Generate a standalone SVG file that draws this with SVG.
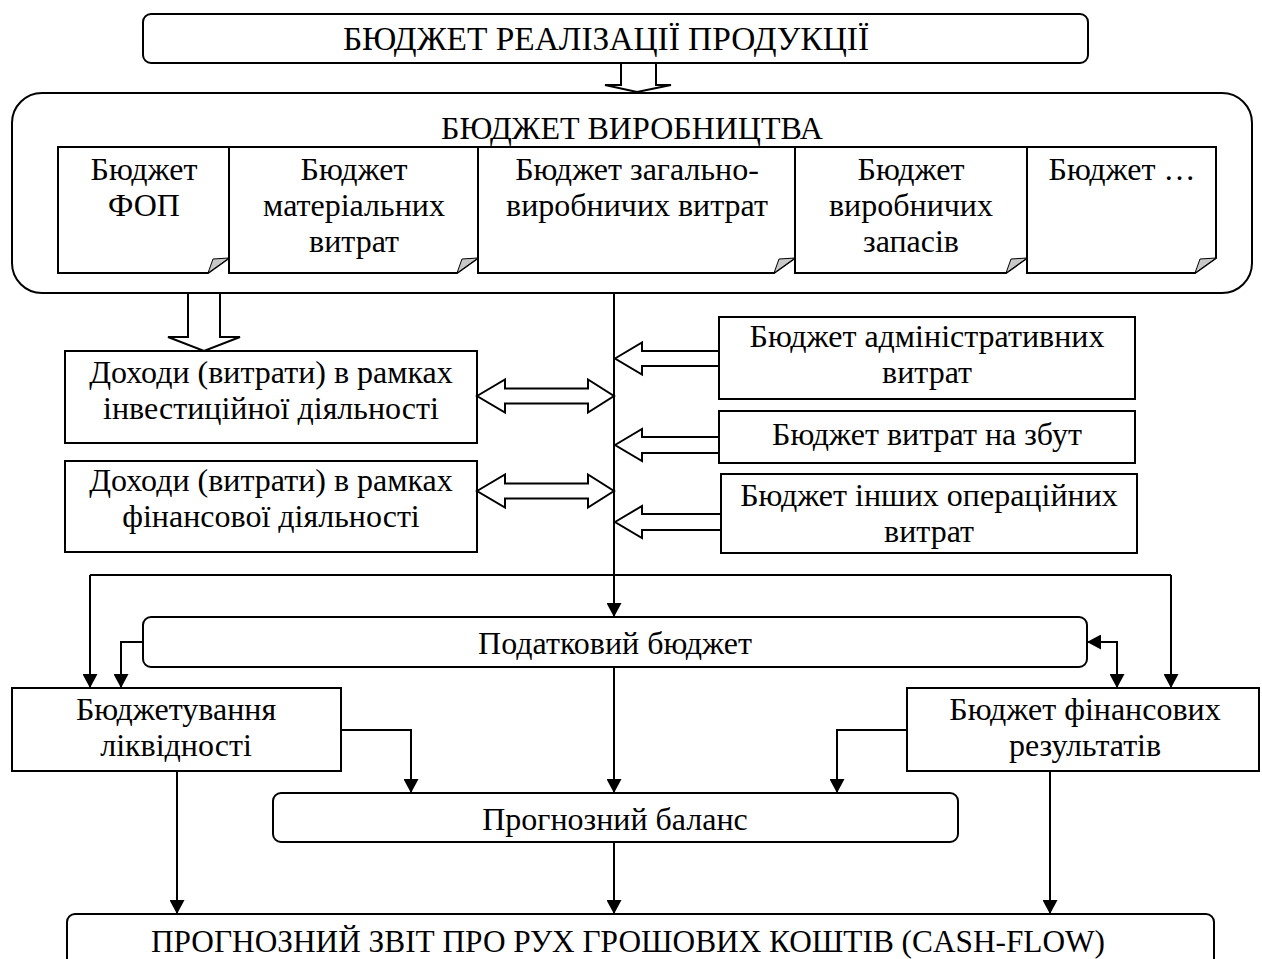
<svg xmlns="http://www.w3.org/2000/svg" width="1262" height="959" viewBox="0 0 1262 959">
  <style>
    .box { fill: #fff; stroke: #000; stroke-width: 2; }
    .hollow { fill: #fff; stroke: #000; stroke-width: 2; stroke-linejoin: miter; }
    .fold { fill: #c8c8c8; stroke: #000; stroke-width: 1; }
    .ln { fill: none; stroke: #000; stroke-width: 2; }
    .arr { marker-end: url(#head); }
    text { font-family: "Liberation Serif", "Times New Roman", serif; font-size: 32px; text-anchor: middle; fill: #000; }
    .big { font-size: 33.4px; }
    .cf { font-size: 31.3px; }
  </style>
  <defs>
    <marker id="head" viewBox="0 0 14 15" refX="14" refY="7.5" markerWidth="14" markerHeight="15" markerUnits="userSpaceOnUse" orient="auto-start-reverse">
      <path d="M0,0 L14,7.5 L0,15 Z" fill="#000"/>
    </marker>
  </defs>

  <!-- sales budget -->
  <g id="sales">
    <rect class="box" x="143" y="14" width="945" height="49" rx="8"/>
    <text class="big" x="606" y="50">БЮДЖЕТ РЕАЛІЗАЦІЇ ПРОДУКЦІЇ</text>
  </g>

  <!-- production budget with its component budgets -->
  <g id="production">
    <rect class="box" x="12" y="93" width="1240" height="200" rx="30"/>
    <text x="632" y="139">БЮДЖЕТ ВИРОБНИЦТВА</text>
  </g>
  <g id="doc-payroll">
    <path class="box" d="M58,147 H229 V258 L208,273 H58 Z"/>
    <polygon class="fold" points="208,273 213,259 229,258"/>
    <text x="144" y="180">Бюджет</text>
    <text x="144" y="216">ФОП</text>
  </g>
  <g id="doc-materials">
    <path class="box" d="M229,147 H478 V258 L457,273 H229 Z"/>
    <polygon class="fold" points="457,273 462,259 478,258"/>
    <text x="354" y="180">Бюджет</text>
    <text x="354" y="216">матеріальних</text>
    <text x="354" y="252">витрат</text>
  </g>
  <g id="doc-overhead">
    <path class="box" d="M478,147 H795 V258 L774,273 H478 Z"/>
    <polygon class="fold" points="774,273 779,259 795,258"/>
    <text x="637" y="180">Бюджет загально-</text>
    <text x="637" y="216">виробничих витрат</text>
  </g>
  <g id="doc-inventory">
    <path class="box" d="M795,147 H1027 V258 L1006,273 H795 Z"/>
    <polygon class="fold" points="1006,273 1011,259 1027,258"/>
    <text x="911" y="180">Бюджет</text>
    <text x="911" y="216">виробничих</text>
    <text x="911" y="252">запасів</text>
  </g>
  <g id="doc-other">
    <path class="box" d="M1027,147 H1216 V258 L1195,273 H1027 Z"/>
    <polygon class="fold" points="1195,273 1200,259 1216,258"/>
    <text x="1122" y="180">Бюджет …</text>
  </g>

  <!-- left side: investing and financing -->
  <g id="investing">
    <rect class="box" x="65" y="351" width="412" height="92"/>
    <text x="271" y="382.5">Доходи (витрати) в рамках</text>
    <text x="271" y="418.5">інвестиційної діяльності</text>
  </g>
  <g id="financing">
    <rect class="box" x="65" y="461" width="412" height="91"/>
    <text x="271" y="490.5">Доходи (витрати) в рамках</text>
    <text x="271" y="526.5">фінансової діяльності</text>
  </g>

  <!-- right side: operating expense budgets -->
  <g id="admin">
    <rect class="box" x="719" y="317" width="416" height="82"/>
    <text x="927" y="346.5">Бюджет адміністративних</text>
    <text x="927" y="382.5">витрат</text>
  </g>
  <g id="selling">
    <rect class="box" x="719" y="411" width="416" height="52"/>
    <text x="927" y="445">Бюджет витрат на збут</text>
  </g>
  <g id="other-opex">
    <rect class="box" x="721" y="474" width="416" height="79"/>
    <text x="929" y="505.5">Бюджет інших операційних</text>
    <text x="929" y="541.5">витрат</text>
  </g>

  <!-- lower level budgets -->
  <g id="tax">
    <rect class="box" x="143" y="617" width="944" height="50" rx="8"/>
    <text x="615" y="654">Податковий бюджет</text>
  </g>
  <g id="liquidity">
    <rect class="box" x="12" y="688" width="329" height="83"/>
    <text x="176" y="719.5">Бюджетування</text>
    <text x="176" y="755.5">ліквідності</text>
  </g>
  <g id="results">
    <rect class="box" x="907" y="688" width="352" height="83"/>
    <text x="1085" y="719.5">Бюджет фінансових</text>
    <text x="1085" y="755.5">результатів</text>
  </g>
  <g id="balance">
    <rect class="box" x="273" y="793" width="685" height="49" rx="8"/>
    <text x="615" y="830">Прогнозний баланс</text>
  </g>
  <g id="cashflow">
    <rect class="box" x="67" y="914" width="1147" height="70" rx="8"/>
    <text class="cf" x="628" y="952">ПРОГНОЗНИЙ ЗВІТ ПРО РУХ ГРОШОВИХ КОШТІВ (CASH-FLOW)</text>
  </g>

  <!-- connectors -->
  <g id="connectors">
    <!-- block arrows -->
    <polygon class="hollow" points="621,63 621,85 605,85 637,92 671,85 656,85 656,63"/>
    <polygon class="hollow" points="188,293 188,337 168,337 204,351 240,337 220,337 220,293"/>
    <polygon class="hollow" points="477,396 505,379.5 505,388.5 588,388.5 588,379.5 614,396 588,412.5 588,403.5 505,403.5 505,412.5"/>
    <polygon class="hollow" points="477,491 505,474.5 505,483.5 588,483.5 588,474.5 614,491 588,507.5 588,498.5 505,498.5 505,507.5"/>
    <polygon class="hollow" points="615,358.5 642,342.5 642,351 719,351 719,366 642,366 642,374.5"/>
    <polygon class="hollow" points="615,445 642,429 642,437 719,437 719,453 642,453 642,461"/>
    <polygon class="hollow" points="615,522 642,506 642,514 721,514 721,530 642,530 642,538"/>

    <!-- main spine -->
    <path class="ln arr" d="M614,293 V617"/>
    <path class="ln" d="M90,575 H1171"/>
    <path class="ln arr" d="M90,575 V688"/>
    <path class="ln arr" d="M1171,575 V688"/>

    <!-- tax budget links -->
    <path class="ln arr" d="M143,642 H121 V688"/>
    <path class="ln arr" d="M1117,688 V642 H1087" style="marker-start:url(#head)"/>
    <path class="ln arr" d="M614,667 V793"/>

    <!-- into forecast balance -->
    <path class="ln arr" d="M341,730 H411 V793"/>
    <path class="ln arr" d="M907,730 H837 V793"/>

    <!-- into cash-flow statement -->
    <path class="ln arr" d="M177,771 V914"/>
    <path class="ln arr" d="M614,842 V914"/>
    <path class="ln arr" d="M1050,771 V914"/>
  </g>
</svg>
